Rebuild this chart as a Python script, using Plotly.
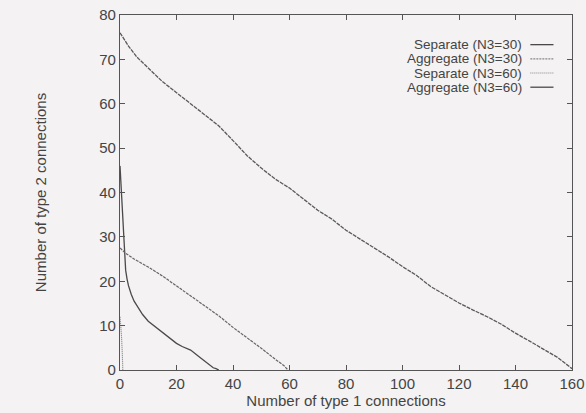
import plotly.graph_objects as go

# Separate (N3=30)
sep30_x = [0, 0.5, 1, 1.5, 2, 2.5, 3, 4, 5, 6, 8, 10, 12, 15, 18, 20, 22, 25, 28, 30, 32, 33, 34, 35]
sep30_y = [46, 40, 34, 28, 22.5, 20.5, 19, 17, 15.5, 14.5, 12.5, 11, 10, 8.5, 7, 6, 5.3, 4.5, 3, 2, 1, 0.5, 0.3, 0]

# Aggregate (N3=30)
agg30_x = [0, 2, 5, 10, 15, 20, 25, 30, 35, 40, 45, 50, 55, 58, 59.5]
agg30_y = [27.5, 26.3, 25, 23.2, 21.2, 19, 16.8, 14.6, 12.2, 9.6, 7.3, 4.9, 2.4, 1, 0]

# Separate (N3=60)
sep60_x = [0, 0.3, 0.5, 0.8, 1]
sep60_y = [12, 10, 8, 4, 0]

# Aggregate (N3=60)
agg60_x = [0, 3, 6, 10, 15, 20, 25, 30, 35, 40, 45, 50, 55, 60, 65, 70, 75, 80,
           85, 90, 95, 100, 105, 110, 115, 120, 125, 130, 135, 140, 145, 150, 155, 160]
agg60_y = [76, 73, 70.5, 68, 65, 62.5, 60, 57.5, 55, 51.7, 48.3, 45.5, 43, 41, 38.5, 36, 34, 31.5,
           29.5, 27.5, 25.5, 23.3, 21.3, 18.8, 17, 15.1, 13.5, 12, 10.3, 8.3, 6.5, 4.7, 2.8, 0.3]

x_ticks = [0, 20, 40, 60, 80, 100, 120, 140, 160]
y_ticks = [0, 10, 20, 30, 40, 50, 60, 70, 80]

legend_names = ["Separate (N3=30)", "Aggregate (N3=30)", "Separate (N3=60)", "Aggregate (N3=60)"]

ink = "#4a4a4a"
bg = "#f4f2f2"
font = "Liberation Sans, Arial, sans-serif"

styles = [
    dict(color=ink, width=1.3, dash="solid"),
    dict(color="#666", width=1.2, dash="3px,1px"),
    dict(color="#777", width=1.1, dash="1px,1px"),
    dict(color="#5a5a5a", width=1.3, dash="4px,1px"),
]
legend_styles = [
    dict(color=ink, width=1.3, dash="solid"),
    dict(color="#888", width=1.1, dash="2px,1px"),
    dict(color="#888", width=1.1, dash="1px,1px"),
    dict(color=ink, width=1.3, dash="solid"),
]

fig = go.Figure()
series = [(sep30_x, sep30_y), (agg30_x, agg30_y), (sep60_x, sep60_y), (agg60_x, agg60_y)]
for (xs, ys), name, st in zip(series, legend_names, styles):
    fig.add_trace(go.Scatter(x=xs, y=ys, mode="lines", name=name, line=st, showlegend=False))

# gnuplot-style key: text right-aligned, line sample to its right
key_y = [34.5, 51, 67.5, 84]
H = 413
for name, yy, st in zip(legend_names, key_y, legend_styles):
    yp = 1 - yy / H
    fig.add_annotation(x=522 / 586, y=yp, xref="paper", yref="paper", text=name,
                       showarrow=False, xanchor="right", yanchor="middle", borderpad=0,
                       font=dict(family=font, size=13.5, color="#444"))
    fig.add_shape(type="line", xref="paper", yref="paper",
                  x0=532 / 586, x1=562 / 586, y0=yp, y1=yp, line=st)

axis_common = dict(
    showgrid=False, zeroline=False, showline=True, linecolor="#555", linewidth=1.2,
    mirror="ticks", ticks="inside", ticklen=5, tickcolor="#555", tickwidth=1,
    tickfont=dict(family=font, size=15, color="#444"), automargin=False,
)

fig.update_layout(
    width=586, height=413,
    margin=dict(l=120, r=14, t=15, b=43),
    paper_bgcolor=bg, plot_bgcolor=bg,
    xaxis=dict(range=[0, 160], tickvals=x_ticks,
               title=dict(text="Number of type 1 connections", standoff=0,
                          font=dict(family=font, size=15, color="#444")),
               **axis_common),
    yaxis=dict(range=[0, 80], tickvals=y_ticks,
               title=dict(text="Number of type 2 connections", standoff=48,
                          font=dict(family=font, size=15, color="#444")),
               **axis_common),
)

fig.write_html("out.html")
